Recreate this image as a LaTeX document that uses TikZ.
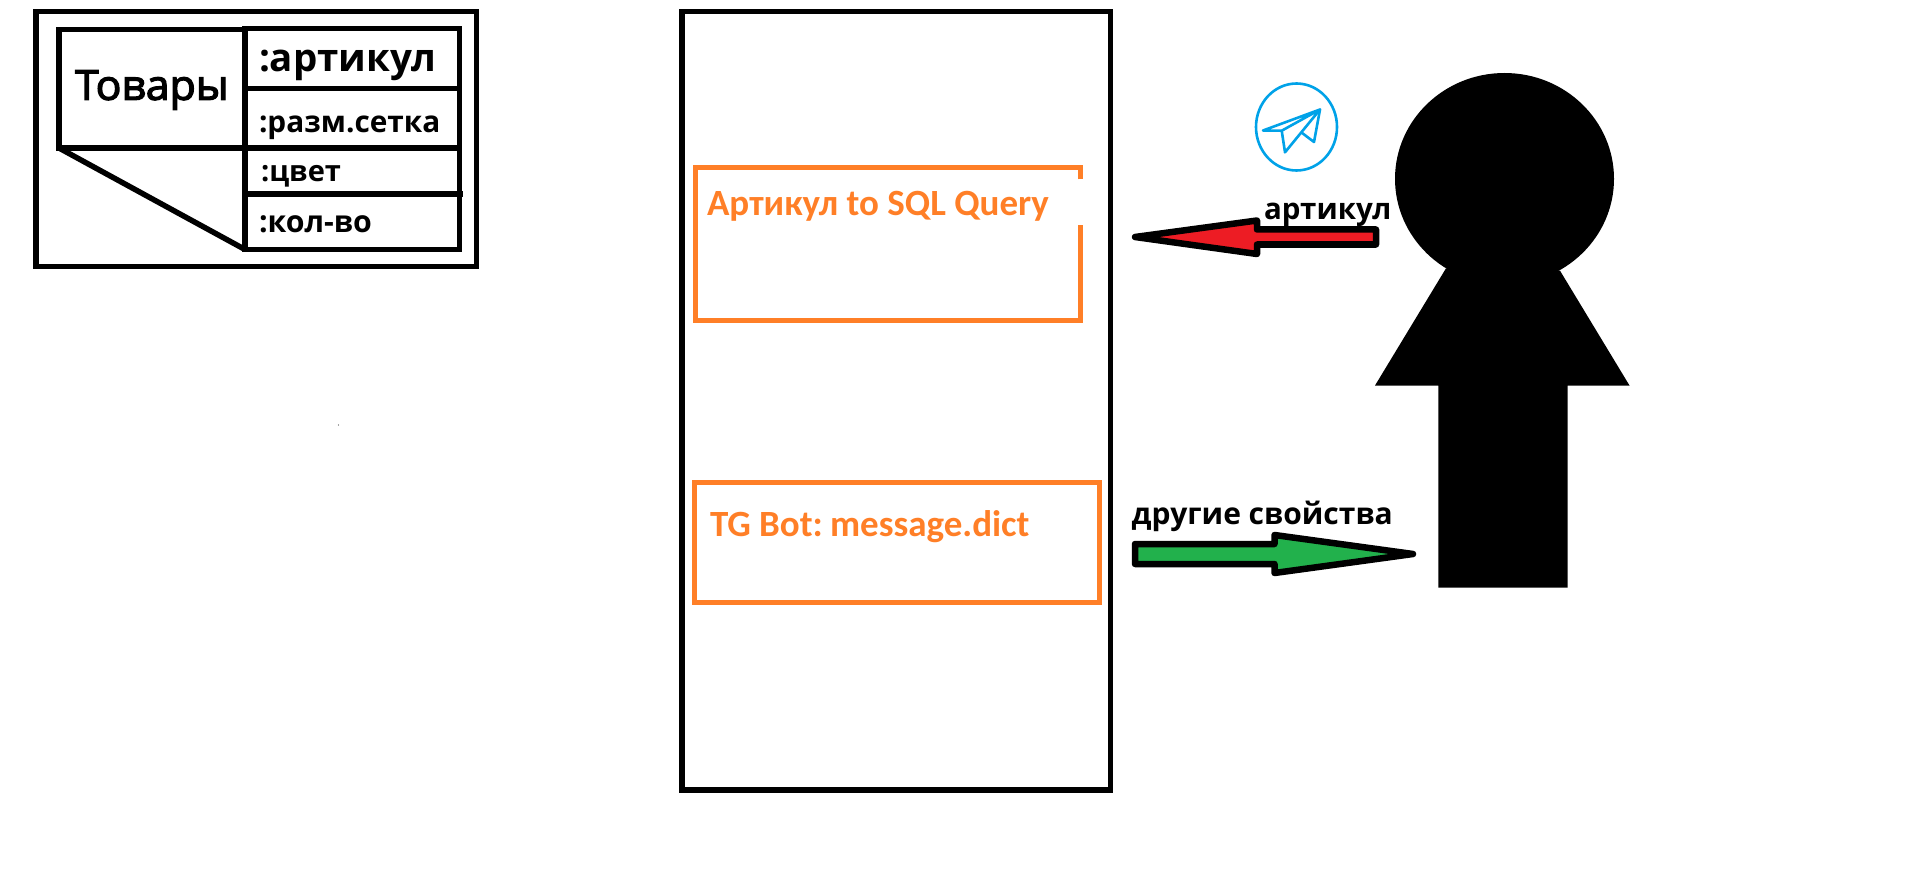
\documentclass[tikz,border=0pt]{standalone}
\usepackage{fontspec}
\setmainfont{Open Sans}
\newfontfamily\carl{Carlito}
\newfontfamily\tovf[FakeBold=3,FakeStretch=1.03]{Open Sans}
\definecolor{mso}{HTML}{FF7F27}
\definecolor{msr}{HTML}{ED1C24}
\definecolor{msg}{HTML}{22B14C}
\definecolor{msb}{HTML}{00A2E8}
\tikzset{
  blk/.style={draw=black,line width=5.5pt,line join=miter},
  orng/.style={draw=mso,line width=5pt},
  lbl/.style={anchor=base west,inner sep=0pt,outer sep=0pt,text=black},
  olbl/.style={anchor=base west,inner sep=0pt,outer sep=0pt,text=mso,font=\carl\bfseries\fontsize{37}{37}\selectfont},
  arrowbody/.style={draw=black,line width=6.5pt,line join=round},
  tgline/.style={draw=msb,line width=2.6pt,line join=round,line cap=round},
}
\begin{document}
\begin{tikzpicture}[x=1pt,y=-1pt]
\useasboundingbox[fill=white] (0,0) rectangle (1906,869);
% table
\draw[blk] (36,11.5) rectangle (476.5,266.5);
\draw[blk] (245,148) -- (59,148) -- (59,29.5) -- (245,29.5);
\draw[blk] (245,28.5) rectangle (459.5,249.5);
\draw[blk] (245,88.5) -- (459.5,88.5);
\draw[blk] (245,148) -- (459.5,148);
\draw[blk] (245,194) -- (463,194);
\draw[blk] (59,148) -- (245,249.5);
\node[lbl,font=\tovf\fontsize{41.5}{41.5}\selectfont] (tov) at (75,99.8) {Товары};
\node[lbl,font=\bfseries\fontsize{38.5}{38.5}\selectfont] (art) at (259,72) {:артикул};
\node[lbl,font=\bfseries\fontsize{29.8}{29.8}\selectfont] (raz) at (259,132.5) {:разм.сетка};
\node[lbl,font=\bfseries\fontsize{29}{29}\selectfont] (cvet) at (261,182) {:цвет};
\node[lbl,font=\bfseries\fontsize{30.3}{30.3}\selectfont] (kol) at (259,233) {:кол-во};
% speck
\fill[black!70] (338.5,425) circle (0.7pt);
% main box
\draw[blk] (682,11.5) rectangle (1110.5,790);
\draw[orng] (1080,179.3) -- (1080,167.3) -- (695.4,167.3) -- (695.4,320) -- (1080,320) -- (1080,225);
\draw[orng] (694.8,482.3) rectangle (1099,602.3);
\node[olbl] (q) at (707,216) {Артикул to SQL Query};
\node[olbl] (m) at (710,536) {TG Bot:\hspace{-4pt} message.dict};
% arrows
\draw[arrowbody,fill=msr] (1135,237) -- (1257,220.5) -- (1257,229.5) -- (1376,229.5) -- (1376,244.5) -- (1257,244.5) -- (1257,254) -- cycle;
\draw[arrowbody,fill=msg] (1413,554) -- (1274.5,535) -- (1274.5,544) -- (1135,544) -- (1135,564) -- (1274.5,564) -- (1274.5,573) -- cycle;
\node[lbl,font=\bfseries\fontsize{29.5}{29.5}\selectfont] (a2) at (1264,220) {артикул};
\node[lbl,font=\bfseries\fontsize{30}{30}\selectfont] (d) at (1131.6,524) {другие свойства};
% telegram
\draw[tgline] (1296.5,127) ellipse (40.5pt and 43.5pt);
\draw[tgline] (1320,109.5) -- (1263,130.5) -- (1281.7,130.7) -- (1320,109.5) -- (1285,152.3) -- (1281.7,130.7);
\draw[tgline] (1301.7,132.7) -- (1314,142) -- (1320,109.5);
% person
\fill[black] (1504.5,178.8) ellipse (109.5pt and 105.8pt);
\fill[black,line join=round] (1446,268.3) -- (1375,385.5) -- (1438.3,385.5) -- (1438.3,587.5) -- (1567.7,587.5) -- (1567.7,385.5) -- (1629.5,385.5) -- (1560,270.7) -- cycle;
\end{tikzpicture}
\end{document}
